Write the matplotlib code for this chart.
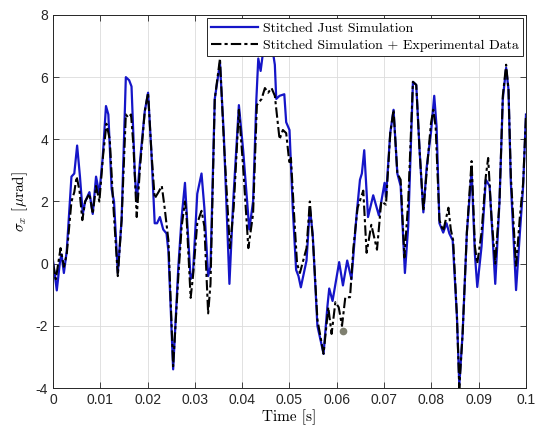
import matplotlib
matplotlib.use("Agg")
import matplotlib.pyplot as plt
import numpy as np

# time in ms
t_sim = [0, 0.8, 1.5, 1.8, 2.3, 2.9, 3.9, 4.5, 5.1, 5.7, 6.3, 6.8, 7.7, 8.4, 9.1, 9.8,
         10.5, 11.2, 11.7, 12.4, 12.9, 13.7, 14.5, 15.4, 16.1, 16.6, 17.3, 17.7, 18.4,
         19.4, 20.1, 20.8, 21.5, 22.0, 22.6, 23.3, 24.0, 24.4, 25.4, 26.5, 27.2, 27.9,
         28.2, 29.1, 29.6, 30.5, 31.4, 32.0, 32.8, 33.3, 34.2, 35.3, 36.1, 37.3, 38.1,
         39.3, 40.2, 41.5, 42.3, 43.0, 43.4, 43.9, 44.4, 45.5, 46.5, 46.9, 47.2, 47.9,
         48.9, 49.3, 50.0, 50.7, 51.4, 51.9, 52.4, 53.6, 54.3, 54.9, 55.9, 57.2, 58.0,
         58.4, 59.1, 60.5, 61.3, 62.2, 63.1, 64.2, 64.9, 65.3, 65.8, 66.6, 67.7, 68.9,
         70.1, 70.4, 71.3, 72.0, 72.8, 73.5, 74.4, 75.1, 76.1, 76.8, 77.5, 78.3, 79.0,
         79.9, 80.6, 81.1, 81.7, 82.5, 83.2, 83.8, 84.5, 85.4, 85.9, 86.6, 87.5, 88.5,
         89.2, 89.7, 90.6, 91.5, 92.3, 92.9, 93.5, 94.4, 95.1, 95.8, 96.3, 96.8, 97.9,
         98.7, 99.4, 100]
y_sim = [0.1, -0.86, 0.1, 0.3, -0.3, 0.4, 2.8, 2.9, 3.8, 2.8, 1.6, 2.0, 2.3, 1.6, 2.8, 2.25,
         3.4, 5.07, 4.8, 2.4, 2.0, -0.3, 1.4, 6.0, 5.9, 5.7, 2.9, 2.0, 3.3,
         4.9, 5.5, 3.6, 1.3, 1.3, 1.5, 1.1, 0.97, 0.4, -3.4, -0.1, 1.5, 2.6,
         1.8, -0.5, -0.3, 2.25, 2.9, 1.8, -0.4, -0.1, 5.3, 6.45, 4.2, -0.65, 2.0,
         5.1, 3.65, 1.1, 2.0, 5.3, 6.6, 6.2, 6.8, 7.0, 6.8, 6.4, 5.3, 5.4,
         5.45, 4.55, 4.3, 1.75, -0.2, -0.4, -0.76, 0.1, 1.8, 0.97, -2.0, -2.9, -1.4,
         -0.8, -1.2, 0.05, -0.7, 0.1, -0.5, 1.6, 2.7, 2.9, 3.65, 1.5, 2.2, 1.55,
         2.6, 2.15, 4.2, 4.95, 2.9, 2.5, -0.3, 1.2, 5.85, 5.75, 3.65, 1.65, 3.1,
         4.2, 5.4, 4.4, 1.3, 1.0, 1.3, 0.97, 0.75, -1.7, -3.9, -2.25, 1.0, 3.0,
         0.3, -0.75, 0.55, 2.7, 2.5, 0.97, -0.65, 2.0, 5.3, 6.3, 5.6, 2.6, -0.85,
         0.97, 2.5, 4.8]

t_exp = [0, 0.6, 1.6, 2.3, 2.9, 3.9, 4.5, 5.0, 5.6, 6.2, 6.8, 7.7, 8.4, 9.1, 9.8,
         10.6, 11.3, 12.0, 12.7, 13.7, 14.5, 15.4, 15.9, 16.5, 17.0, 17.7, 18.4,
         19.4, 20.1, 20.8, 21.5, 22.3, 23.0, 23.6, 24.4, 25.4, 26.5, 27.2, 27.9,
         28.2, 29.1, 29.6, 30.5, 31.4, 32.0, 32.8, 33.3, 34.2, 35.3, 36.1, 37.4, 38.2,
         39.3, 40.2, 41.3, 42.3, 43.1, 44.1, 44.8, 45.5, 46.2, 46.9, 47.6, 47.9, 48.6,
         49.3, 50.0, 50.3, 51.0, 51.6, 52.2, 53.6, 54.3, 55.0, 55.9, 57.2, 58.2, 58.9,
         59.7, 60.4, 61.1, 61.8, 62.8, 63.5, 64.4, 65.6, 66.3, 67.3, 68.5, 69.4, 70.4,
         71.3, 72.0, 72.8, 73.5, 74.3, 75.1, 76.1, 76.8, 77.5, 78.3,
         79.2, 79.9, 80.4, 80.9, 81.7, 82.5, 83.6, 84.1, 84.6, 85.4, 85.9, 86.6, 87.5,
         88.5, 89.2, 89.7, 90.6, 91.5, 92.0, 92.7, 93.5, 94.4, 95.1, 95.8, 96.3, 96.8,
         97.9, 98.7, 99.4, 100]
y_exp = [0.0, -0.5, 0.5, -0.1, 0.3, 2.0, 2.3, 2.8, 2.35, 1.4, 2.0, 2.25, 1.6, 2.5, 2.0,
         3.5, 4.5, 4.0, 2.0, -0.4, 1.4, 4.8, 4.7, 4.8, 3.8, 1.5, 3.1,
         4.9, 5.5, 3.6, 2.1, 2.3, 2.5, 1.8, 0.75, -3.3, -0.4, 1.2, 2.0,
         1.6, -1.1, -0.4, 1.3, 1.7, 1.2, -1.6, -0.65, 5.3, 6.6, 4.0, 0.5, 1.8,
         4.95, 3.1, 0.5, 1.6, 5.1, 5.3, 5.65, 5.5, 5.65, 5.4, 4.4, 4.0, 4.3,
         4.2, 3.2, 3.4, 1.5, 0.0, -0.3, 0.5, 2.0, 0.65, -1.8, -2.9, -1.4, -2.26,
         -1.24, -1.4, -2.0, -1.08, -1.08, 0.5, 1.8, 2.35, 0.35, 1.25, 0.45, 2.0, 1.9,
         4.2, 4.95, 2.9, 2.7, 0.2, 2.0, 5.85, 5.75, 3.65, 1.7,
         3.3, 4.5, 4.95, 4.4, 1.4, 1.05, 1.8, 1.1, 0.75, -1.7, -4.0, -2.25, 1.0,
         3.3, 0.55, 0.0, 1.0, 2.8, 3.4, 1.5, 0.0, 2.0, 5.4, 6.4, 5.6, 2.8,
         -0.1, 1.5, 2.6, 4.8]

tip_t = [61.4]
tip_y = [-2.17]

plt.rcParams['mathtext.fontset'] = 'cm'
plt.rcParams['axes.unicode_minus'] = False
cm_font = 'cmr10'

fig = plt.figure(figsize=(5.37, 4.33), dpi=100)
ax = fig.add_axes([0.0987, 0.1039, 0.8808, 0.8615])

ax.plot(np.array(t_sim) / 1000, y_sim, color='#1515c8', lw=1.6,
        label='Stitched Just Simulation')
ax.plot(np.array(t_exp) / 1000, y_exp, color='black', lw=1.5,
        dashes=(5, 1.5, 1.5, 1.5), label='Stitched Simulation + Experimental Data')
ax.plot(np.array(tip_t) / 1000, tip_y, 'o', color='#7f8070', ms=4.5, zorder=5)

ax.set_xlim(0, 0.1)
ax.set_ylim(-4, 8)
ax.set_xticks(np.arange(0, 0.1001, 0.01))
ax.set_xticklabels(['0', '0.01', '0.02', '0.03', '0.04', '0.05', '0.06', '0.07',
                    '0.08', '0.09', '0.1'])
ax.set_yticks([-4, -2, 0, 2, 4, 6, 8])
ax.set_yticklabels(['-4', '-2', '0', '2', '4', '6', '8'])
ax.tick_params(direction='in', top=True, right=True, length=4, width=0.6,
               colors='#262626', labelsize=10)
for lab in ax.get_xticklabels() + ax.get_yticklabels():
    lab.set_fontfamily('Liberation Sans')
for s in ax.spines.values():
    s.set_color('#262626')
    s.set_linewidth(0.7)
ax.grid(True, color='#dcdcdc', lw=0.6)
ax.set_axisbelow(True)

ax.set_xlabel('Time [s]', fontfamily=cm_font, fontsize=11, labelpad=2)
ax.set_ylabel(r'$\sigma_x$ [$\mu$rad]', fontfamily=cm_font, fontsize=11, labelpad=4)

leg = ax.legend(loc='upper right', prop={'family': cm_font, 'size': 10},
                fancybox=False, edgecolor='#262626', framealpha=1,
                borderaxespad=0.25, handlelength=3.4, handletextpad=0.3,
                borderpad=0.3, labelspacing=0.3)
leg.get_frame().set_linewidth(0.7)

fig.savefig('out.png', dpi=100)
